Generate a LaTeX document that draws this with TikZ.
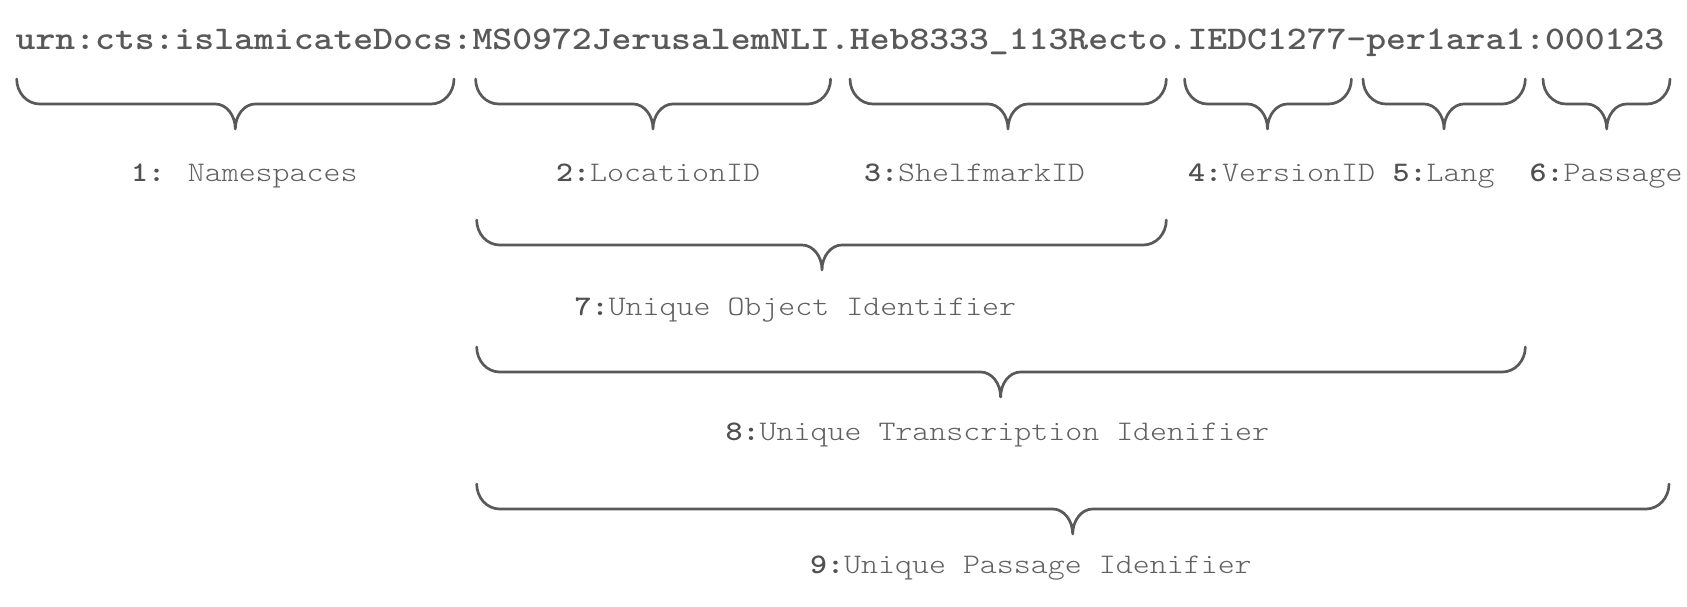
\documentclass[tikz,border=0pt]{standalone}
\usepackage{fontspec}
\setmainfont{Latin Modern Mono Light}[FakeStretch=1.143]
\definecolor{bracegray}{HTML}{595959}
\definecolor{numgray}{HTML}{505050}
\definecolor{txtgray}{HTML}{606060}
\newcommand{\drawbrace}[4]{%
  \draw[bracestyle] (#1,#4) .. controls (#1,#4+13.8) and (#1+10.3,#4+25) .. (#1+23,#4+25)
    -- (#3-20,#4+25) .. controls (#3-8.96,#4+25) and (#3,#4+36.2) .. (#3,#4+50)
    .. controls (#3,#4+36.2) and (#3+8.96,#4+25) .. (#3+20,#4+25)
    -- (#2-23,#4+25) .. controls (#2-10.3,#4+25) and (#2,#4+13.8) .. (#2,#4);}
\newcommand{\lbl}[2]{{\bfseries\color{numgray}#1}{\color{txtgray}#2}}
\begin{document}
\begin{tikzpicture}[x=1pt,y=-1pt,
  bracestyle/.style={draw=bracegray,line width=2.7pt,line cap=round,line join=round},
  titlestyle/.style={anchor=base west,inner sep=0pt,text=bracegray,font=\fontsize{33.1}{36}\selectfont\bfseries},
  labelstyle/.style={anchor=base west,inner sep=0pt,font=\fontsize{28.3}{32}\selectfont}]
\useasboundingbox (0,0) rectangle (1687,607);
\node[titlestyle] (title) at (15.5,50) {urn:cts:islamicateDocs:MS0972JerusalemNLI.Heb8333\_113Recto.IEDC1277-per1ara1:000123};
% braces
\drawbrace{16.7}{454}{235.3}{79}
\drawbrace{475.6}{830.6}{653}{79}
\drawbrace{850}{1166.3}{1008}{79}
\drawbrace{1184.6}{1351.4}{1267.5}{79}
\drawbrace{1363}{1525.3}{1444}{79}
\drawbrace{1543}{1670}{1606.7}{79}
\drawbrace{476.7}{1166.3}{822}{220}
\drawbrace{476.7}{1525.3}{1000.6}{347}
\drawbrace{476.7}{1669}{1072.7}{484}
% labels
\node[labelstyle] (l1) at (131,181.5) {\lbl{1: }{Namespaces}};
\node[labelstyle] (l2) at (556,181.5) {\lbl{2:}{LocationID}};
\node[labelstyle] (l3) at (864,181.5) {\lbl{3:}{ShelfmarkID}};
\node[labelstyle] (l4) at (1188,181.5) {\lbl{4:}{VersionID}};
\node[labelstyle] (l5) at (1392.5,181.5) {\lbl{5:}{Lang}};
\node[labelstyle] (l6) at (1529.5,181.5) {\lbl{6:}{Passage}};
\node[labelstyle] (l7) at (574.5,315) {\lbl{7:}{Unique Object Identifier}};
\node[labelstyle] (l8) at (725.5,440) {\lbl{8:}{Unique Transcription Idenifier}};
\node[labelstyle] (l9) at (810,573) {\lbl{9:}{Unique Passage Idenifier}};
\end{tikzpicture}
\end{document}
